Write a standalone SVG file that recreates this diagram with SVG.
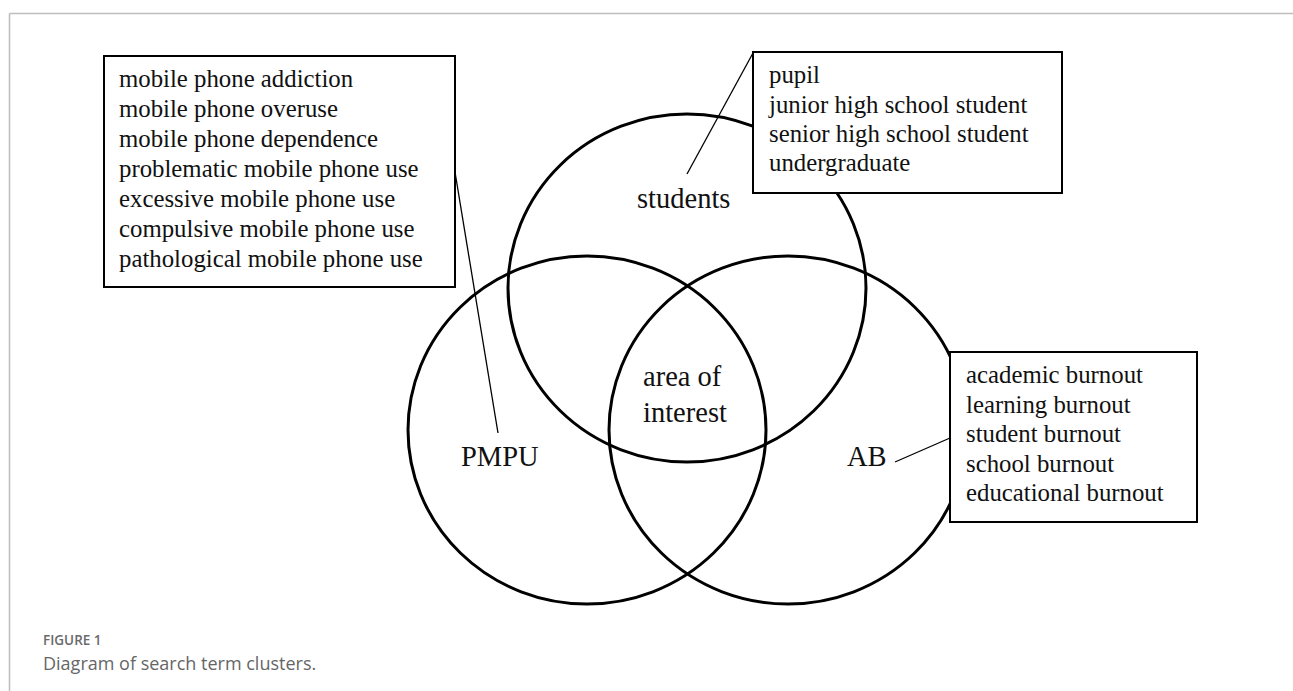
<svg xmlns="http://www.w3.org/2000/svg" width="1293" height="691" viewBox="0 0 1293 691">
  <style>
    .frame { fill: none; stroke: #bdbdbd; stroke-width: 1.5; }
    .set { fill: none; stroke: #000; stroke-width: 3; }
    .box { fill: #fff; stroke: #000; stroke-width: 2; }
    .lead { fill: none; stroke: #000; stroke-width: 1.3; }
    .term { font-family: "Liberation Serif", "Times New Roman", serif; font-size: 24.8px; fill: #111; }
    .label { font-family: "Liberation Serif", "Times New Roman", serif; font-size: 28.5px; fill: #111; }
    .fig { font-family: "Open Sans", "Noto Sans", sans-serif; font-size: 13.5px; font-weight: 600; fill: #6a6a6a; }
    .cap { font-family: "Open Sans", "Noto Sans", sans-serif; font-size: 18px; fill: #666; }
  </style>
  <rect width="1293" height="691" fill="#fff"/>

  <!-- page frame -->
  <g id="frame">
    <path class="frame" d="M9.5 13.5 H1293 M9.5 13.5 V691"/>
  </g>

  <!-- the three overlapping sets -->
  <g id="set-students">
    <ellipse class="set" cx="687" cy="288" rx="179" ry="174"/>
    <text class="label" x="637" y="208">students</text>
  </g>
  <g id="set-pmpu">
    <ellipse class="set" cx="587" cy="430" rx="179" ry="174"/>
    <text class="label" x="461" y="466">PMPU</text>
  </g>
  <g id="set-ab">
    <ellipse class="set" cx="788" cy="430" rx="179" ry="174"/>
    <text class="label" x="847" y="466">AB</text>
  </g>
  <g id="intersection">
    <text class="label" x="643" y="386">area of</text>
    <text class="label" x="643" y="422">interest</text>
  </g>

  <!-- term lists -->
  <g id="terms-pmpu">
    <rect class="box" x="104" y="56" width="351" height="231"/>
    <text class="term" x="119" y="87">mobile phone addiction</text>
    <text class="term" x="119" y="117">mobile phone overuse</text>
    <text class="term" x="119" y="147">mobile phone dependence</text>
    <text class="term" x="119" y="177">problematic mobile phone use</text>
    <text class="term" x="119" y="207">excessive mobile phone use</text>
    <text class="term" x="119" y="237">compulsive mobile phone use</text>
    <text class="term" x="119" y="267">pathological mobile phone use</text>
  </g>
  <g id="terms-students">
    <rect class="box" x="753" y="52" width="309" height="141"/>
    <text class="term" x="769" y="83">pupil</text>
    <text class="term" x="769" y="112.5">junior high school student</text>
    <text class="term" x="769" y="142">senior high school student</text>
    <text class="term" x="769" y="171">undergraduate</text>
  </g>
  <g id="terms-ab">
    <rect class="box" x="950" y="352" width="247" height="170"/>
    <text class="term" x="966" y="383">academic burnout</text>
    <text class="term" x="966" y="412.5">learning burnout</text>
    <text class="term" x="966" y="442">student burnout</text>
    <text class="term" x="966" y="471.5">school burnout</text>
    <text class="term" x="966" y="501">educational burnout</text>
  </g>

  <!-- leader lines from set labels to their term lists -->
  <g id="connectors">
    <line class="lead" x1="687" y1="174" x2="753" y2="53"/>
    <line class="lead" x1="455" y1="172" x2="498" y2="433"/>
    <line class="lead" x1="895" y1="462" x2="950" y2="438"/>
  </g>

  <!-- caption -->
  <g id="caption">
    <text class="fig" x="43" y="645">FIGURE 1</text>
    <text class="cap" x="43" y="670">Diagram of search term clusters.</text>
  </g>
</svg>
